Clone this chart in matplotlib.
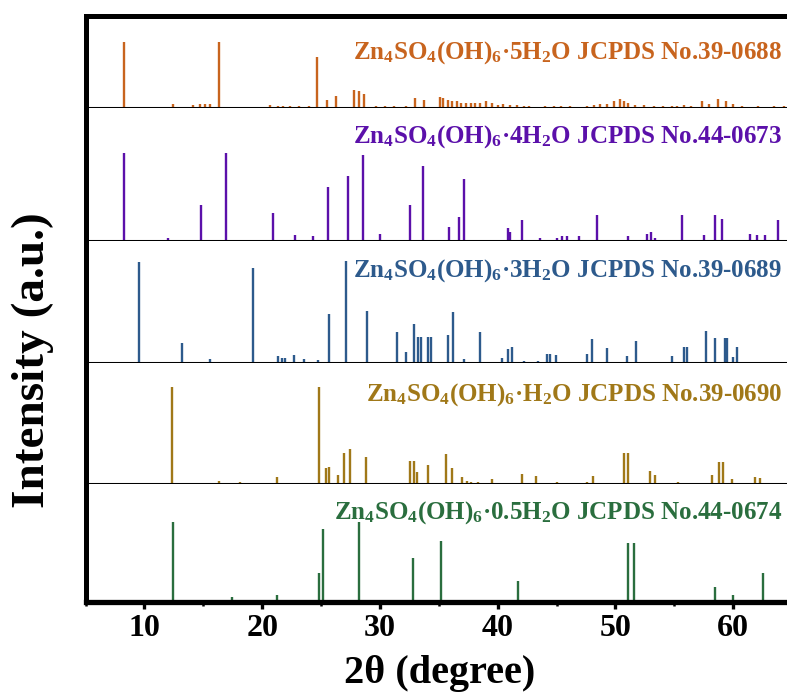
import numpy as np
import matplotlib
matplotlib.use("Agg")
import matplotlib.pyplot as plt
from matplotlib.ticker import MultipleLocator

plt.rcParams["font.family"] = ["Liberation Serif", "DejaVu Serif"]
plt.rcParams["font.weight"] = "bold"
plt.rcParams["mathtext.fontset"] = "custom"
plt.rcParams["mathtext.rm"] = "Liberation Serif:bold"
plt.rcParams["mathtext.it"] = "Liberation Serif:bold"
plt.rcParams["mathtext.bf"] = "Liberation Serif:bold"

# === Data: stick positions (2theta) and relative intensities ===
pos_5h2o = [8.26, 16.37, 24.64, 12.39, 14.09, 14.68, 15.15, 15.54, 20.70, 21.37,
            21.76, 22.36, 23.14, 24.01, 25.50, 26.29, 27.79, 28.18, 28.65, 29.64,
            30.43, 31.21, 32.20, 32.98, 33.77, 35.07, 35.39, 35.74, 36.13, 36.53,
            36.92, 37.32, 37.71, 38.10, 38.50, 39.01, 39.48, 40.07, 40.46, 41.06,
            41.65, 42.24, 42.63, 44.01, 44.80, 45.39, 46.17, 47.55, 48.14, 48.73,
            49.32, 49.91, 50.39, 50.70, 51.10, 51.69, 52.47, 53.26, 54.05, 54.84,
            55.23, 55.82, 56.41, 57.39, 57.98, 58.69, 59.36, 59.95, 60.74, 62.12,
            63.50, 64.28]
int_5h2o = [100, 100, 77, 6, 5, 6, 6, 6, 5, 3,
            3, 3, 3, 3, 12, 18, 28, 26, 22, 3,
            3, 3, 3, 15, 12, 17, 15, 12, 10, 10,
            8, 8, 7, 7, 7, 10, 7, 5, 6, 5,
            5, 3, 3, 3, 3, 3, 3, 3, 5, 6,
            6, 10, 13, 10, 7, 5, 5, 3, 3, 3,
            3, 5, 3, 10, 6, 13, 10, 6, 3, 3,
            3, 3]

pos_4h2o = [8.26, 12.00, 14.76, 16.96, 20.90, 22.75, 24.32, 25.62, 27.31, 28.54,
            30.03, 32.59, 33.69, 35.86, 36.72, 37.12, 40.86, 41.06, 42.04, 43.62,
            45.07, 45.47, 45.86, 46.88, 48.42, 51.09, 52.67, 53.06, 53.38, 55.62,
            57.51, 58.46, 59.09, 61.41, 62.04, 62.71, 63.77]
int_4h2o = [100, 3, 41, 100, 32, 6, 5, 62, 74, 98,
            8, 41, 86, 16, 27, 71, 15, 10, 24, 3,
            3, 5, 5, 5, 29, 5, 8, 10, 3, 29,
            6, 29, 25, 8, 6, 6, 24]

pos_3h2o = [9.56, 13.18, 15.54, 19.21, 21.37, 21.65, 21.96, 22.67, 23.54, 24.72,
            25.70, 27.08, 28.93, 31.41, 32.20, 32.87, 33.26, 33.50, 34.09, 34.36,
            35.74, 36.21, 37.12, 38.50, 40.35, 40.86, 41.25, 42.24, 43.42, 44.21,
            44.48, 44.99, 47.55, 48.02, 49.32, 50.98, 51.76, 54.83, 55.82, 56.10,
            57.67, 58.50, 59.28, 59.48, 59.95, 60.35]
int_3h2o = [99, 20, 4, 93, 7, 5, 5, 8, 4, 3,
            48, 100, 51, 30, 11, 38, 26, 26, 26, 26,
            27, 50, 4, 30, 5, 14, 16, 2, 2, 9,
            9, 8, 9, 24, 15, 7, 22, 7, 16, 16,
            31, 25, 25, 25, 6, 16]

pos_1h2o = [12.32, 24.80, 16.37, 18.14, 21.29, 25.43, 25.70, 26.41, 26.92, 27.47,
            28.85, 31.21, 31.61, 32.59, 32.87, 33.18, 34.05, 35.62, 36.13, 36.96,
            37.43, 37.75, 38.30, 39.56, 42.04, 43.22, 45.07, 47.55, 48.06, 50.70,
            51.10, 52.95, 53.38, 55.35, 58.18, 58.77, 59.17, 59.87, 61.84, 62.24]
int_1h2o = [100, 100, 3, 2, 7, 17, 18, 9, 32, 36,
            28, 1, 1, 24, 24, 12, 20, 31, 17, 7,
            3, 2, 2, 5, 10, 8.5, 2, 2, 8.5, 32,
            32, 13, 9, 2, 9, 23, 23, 5, 7, 6]

pos_05h2o = [12.39, 17.43, 21.29, 24.80, 25.19, 28.18, 32.79, 35.15, 37.39, 41.76,
             45.27, 51.10, 51.57, 58.46, 59.95, 62.51]
int_05h2o = [100, 6, 9, 36, 91, 100, 55, 76, 2, 26,
             3, 74, 74, 19, 9, 36]

labels = [r"$\mathrm{Zn_4SO_4(OH)_6}$·5$\mathrm{H_2}$O JCPDS No.39-0688",
          r"$\mathrm{Zn_4SO_4(OH)_6}$·4$\mathrm{H_2}$O JCPDS No.44-0673",
          r"$\mathrm{Zn_4SO_4(OH)_6}$·3$\mathrm{H_2}$O JCPDS No.39-0689",
          r"$\mathrm{Zn_4SO_4(OH)_6}$·$\mathrm{H_2}$O JCPDS No.39-0690",
          r"$\mathrm{Zn_4SO_4(OH)_6}$·0.5$\mathrm{H_2}$O JCPDS No.44-0674"]
colors = ["#C8641E", "#5B10AA", "#2D5A8C", "#A07818", "#2A6E3E"]
positions = [pos_5h2o, pos_4h2o, pos_3h2o, pos_1h2o, pos_05h2o]
intensities = [int_5h2o, int_4h2o, int_3h2o, int_1h2o, int_05h2o]

# === Layout (pixels) ===
W, H = 787, 698
panel_edges = [15.5, 108, 240.7, 363, 484, 602]
ymax = [141, 152, 120, 125, 148]
label_y = [53, 137, 271, 395, 513]
x_left, x_right = 85.6, 792

fig = plt.figure(figsize=(W / 100, H / 100), dpi=100)

for i in range(5):
    top, bot = panel_edges[i], panel_edges[i + 1]
    ax = fig.add_axes([x_left / W, 1 - bot / H, (x_right - x_left) / W, (bot - top) / H])
    ax.vlines(positions[i], 0, intensities[i], color=colors[i], lw=1.7)
    ax.set_xlim(5, 65)
    ax.set_ylim(0, ymax[i])
    ax.set_yticks([])
    ax.spines["right"].set_visible(False)
    ax.spines["left"].set_linewidth(3.6)
    if i == 0:
        ax.spines["top"].set_linewidth(3.6)
    else:
        ax.spines["top"].set_visible(False)
    if i < 4:
        ax.spines["bottom"].set_linewidth(2.2)
        ax.tick_params(axis="x", which="both", bottom=False, labelbottom=False)
    else:
        ax.spines["bottom"].set_linewidth(3.8)
        ax.xaxis.set_major_locator(MultipleLocator(10))
        ax.xaxis.set_minor_locator(MultipleLocator(5))
        ax.tick_params(axis="x", which="major", direction="out", length=5, width=2.4,
                       labelsize=23, pad=4)
        ax.tick_params(axis="x", which="minor", direction="out", length=3, width=1.8)
        for lab in ax.get_xticklabels():
            lab.set_fontweight("bold")
    fig.text(782 / W, 1 - label_y[i] / H, labels[i], color=colors[i], fontsize=18,
             fontweight="bold", ha="right", va="center")

fig.text(440 / W, 1 - 674 / H, "2θ (degree)", fontsize=29, fontweight="bold",
         ha="center", va="center")
fig.text(33 / W, 1 - 360 / H, "Intensity (a.u.)", rotation=90, fontsize=34,
         fontweight="bold", ha="center", va="center")

fig.savefig("out.png", dpi=100)
